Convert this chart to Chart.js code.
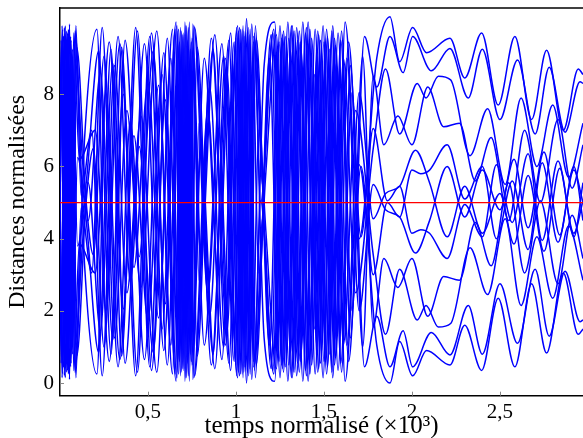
<!DOCTYPE html>
<html>
<head>
<meta charset="utf-8">
<script src="https://cdn.jsdelivr.net/npm/chart.js@4/dist/chart.umd.min.js"></script>
<style>
  body { margin: 0; background: #fff; }
  #box { width: 583px; height: 438px; }
</style>
</head>
<body>
<div id="box"><canvas id="chart"></canvas></div>
<script>
// temps normalisé (x10^3), one time list per pair of mirrored curves
const temps1 = [0, 0.012, 0.035, 0.06, 0.085, 0.14, 0.21, 0.26, 0.34, 0.42, 0.50, 0.58, 0.66, 0.69, 0.72, 0.75, 0.82, 0.90, 0.97, 1.02, 1.06, 1.10, 1.16, 1.22, 1.27, 1.32, 1.37, 1.42, 1.47, 1.52, 1.57, 1.62, 1.70,
  1.80, 1.875, 1.93, 2.004, 2.083, 2.216, 2.30, 2.396, 2.49, 2.585, 2.68, 2.765, 2.86, 2.945, 2.972];
const temps2 = [0, 0.006, 0.025, 0.048, 0.072, 0.095, 0.16, 0.23, 0.30, 0.37, 0.45, 0.53, 0.61, 0.675, 0.705, 0.735, 0.765, 0.85, 0.93, 1.01, 1.045, 1.08, 1.115, 1.19, 1.245, 1.295, 1.345, 1.395, 1.445, 1.495, 1.545, 1.595, 1.66, 1.73,
  1.80, 1.875, 1.95, 2.004, 2.11, 2.216, 2.32, 2.40, 2.50, 2.60, 2.70, 2.78, 2.87, 2.955, 2.972];
const temps3 = [0, 0.018, 0.042, 0.066, 0.09, 0.12, 0.18, 0.24, 0.31, 0.38, 0.46, 0.55, 0.63, 0.68, 0.71, 0.74, 0.78, 0.86, 0.95, 1.005, 1.04, 1.075, 1.11, 1.15, 1.21, 1.26, 1.31, 1.36, 1.41, 1.46, 1.51, 1.56, 1.61, 1.68,
  1.78, 1.85, 1.93, 2.03, 2.08, 2.15, 2.22, 2.33, 2.43, 2.53, 2.62, 2.71, 2.80, 2.89, 2.972];
const temps4 = [0, 0.009, 0.03, 0.054, 0.078, 0.11, 0.20, 0.28, 0.36, 0.44, 0.52, 0.60, 0.655, 0.685, 0.715, 0.745, 0.80, 0.88, 0.96, 1.015, 1.05, 1.09, 1.13, 1.20, 1.25, 1.30, 1.35, 1.40, 1.45, 1.50, 1.55, 1.60, 1.65, 1.72,
  1.78, 1.84, 1.92, 2.00, 2.09, 2.18, 2.27, 2.36, 2.45, 2.55, 2.64, 2.73, 2.83, 2.91, 2.972];
const temps5 = [0, 0.015, 0.038, 0.063, 0.088, 0.13, 0.19, 0.25, 0.33, 0.40, 0.48, 0.56, 0.64, 0.67, 0.70, 0.73, 0.76, 0.84, 0.92, 0.99, 1.025, 1.065, 1.10, 1.17, 1.23, 1.28, 1.33, 1.38, 1.43, 1.48, 1.53, 1.58, 1.64, 1.71,
  1.78, 1.86, 1.93, 2.00, 2.05, 2.10, 2.20, 2.30, 2.40, 2.48, 2.57, 2.66, 2.74, 2.83, 2.92, 2.972];
const temps6 = [0, 0.004, 0.022, 0.045, 0.07, 0.10, 0.15, 0.22, 0.29, 0.35, 0.43, 0.51, 0.59, 0.665, 0.695, 0.725, 0.755, 0.79, 0.87, 0.94, 1.0, 1.035, 1.07, 1.105, 1.14, 1.215, 1.265, 1.315, 1.365, 1.415, 1.465, 1.515, 1.565, 1.63, 1.70,
  1.78, 1.85, 1.93, 2.02, 2.10, 2.20, 2.30, 2.40, 2.50, 2.58, 2.66, 2.75, 2.84, 2.92, 2.972];

// distances normalisées, upper curves (haut) and lower curves (bas)
const haut1 = [5.0, 9.9, 1.0, 9.6, 0.3, 6.8, 9.8, 2.0, 9.4, 3.2, 8.3, 1.5, 10.0, 0.3, 9.9, 0.5, 9.0, 3.0, 9.7, 0.2, 10.1, 0.6, 8.8, 10.0, 0.3, 9.9, 0.8, 9.8, 0.4, 9.6, 1.2, 10.0, 4.0,
  9.0, 10.15, 8.9, 9.85, 9.15, 9.55, 8.45, 9.70, 7.7, 9.60, 7.3, 9.22, 7.0, 8.7, 8.55];
const bas1 = [5.05, 0.15, 9.05, 0.45, 9.75, 3.25, 0.25, 8.05, 0.65, 6.85, 1.75, 8.55, 0.05, 9.75, 0.15, 9.55, 1.05, 7.05, 0.35, 9.85, 0, 9.45, 1.25, 0.05, 9.75, 0.15, 9.25, 0.25, 9.65, 0.45, 8.85, 0.05, 6.05,
  1.05, 0, 1.15, 0.2, 0.9, 0.5, 1.6, 0.35, 2.35, 0.45, 2.75, 0.83, 3.05, 1.35, 1.5];
const haut2 = [6.0, 9.5, 0.2, 9.8, 0.8, 9.3, 4.5, 8.6, 1.2, 9.5, 3.5, 9.2, 0.5, 9.8, 0.4, 10.0, 0.2, 8.2, 1.0, 9.9, 0.3, 9.8, 0.5, 9.0, 0.6, 10.0, 0.2, 9.7, 1.5, 9.9, 0.3, 9.5, 2.0, 9.6,
  8.2, 9.6, 8.6, 9.6, 8.65, 9.27, 7.9, 9.25, 7.3, 8.95, 6.9, 8.75, 6.95, 8.35, 8.3];
const bas2 = [4.05, 0.55, 9.85, 0.25, 9.25, 0.75, 5.55, 1.45, 8.85, 0.55, 6.55, 0.85, 9.55, 0.25, 9.65, 0.05, 9.85, 1.85, 9.05, 0.15, 9.75, 0.25, 9.55, 1.05, 9.45, 0.05, 9.85, 0.35, 8.55, 0.15, 9.75, 0.55, 8.05, 0.45,
  1.85, 0.45, 1.45, 0.45, 1.4, 0.78, 2.15, 0.8, 2.75, 1.1, 3.15, 1.3, 3.1, 1.7, 1.75];
const haut3 = [4.0, 0.5, 9.7, 1.5, 9.9, 5.2, 7.0, 0.2, 8.8, 2.5, 7.4, 0.3, 9.0, 0.6, 10.0, 0.8, 9.3, 0.5, 8.6, 0.2, 9.9, 0.4, 9.9, 5.5, 9.7, 0.5, 9.2, 0.3, 10.0, 1.0, 9.4, 0.5, 9.0, 2.5,
  6.5, 8.7, 6.9, 8.3, 7.9, 8.5, 8.4, 6.3, 7.6, 5.5, 7.9, 6.0, 7.7, 5.7, 7.2];
const bas3 = [6.05, 9.55, 0.35, 8.55, 0.15, 4.85, 3.05, 9.85, 1.25, 7.55, 2.65, 9.75, 1.05, 9.45, 0.05, 9.25, 0.75, 9.55, 1.45, 9.85, 0.15, 9.65, 0.15, 4.55, 0.35, 9.55, 0.85, 9.75, 0.05, 9.05, 0.65, 9.55, 1.05, 7.55,
  3.55, 1.35, 3.15, 1.75, 2.15, 1.55, 1.65, 3.75, 2.45, 4.55, 2.15, 4.05, 2.35, 4.35, 2.85];
const haut4 = [5.5, 0.8, 9.9, 0.1, 9.7, 6.2, 7.0, 0.6, 8.0, 0.3, 9.7, 2.2, 9.8, 0.2, 9.9, 0.6, 6.5, 0.4, 9.5, 0.3, 9.6, 0.1, 7.0, 0.4, 9.9, 0.5, 9.5, 0.2, 9.8, 0.6, 9.9, 0.3, 8.8, 1.0,
  8.5, 6.6, 7.4, 6.6, 8.2, 7.1, 7.2, 5.6, 6.8, 4.5, 7.0, 5.0, 7.3, 5.4, 6.6];
const bas4 = [4.55, 9.25, 0.15, 9.95, 0.35, 3.85, 3.05, 9.45, 2.05, 9.75, 0.35, 7.85, 0.25, 9.85, 0.15, 9.45, 3.55, 9.65, 0.55, 9.75, 0.45, 9.95, 3.05, 9.65, 0.15, 9.55, 0.55, 9.85, 0.25, 9.45, 0.15, 9.75, 1.25, 9.05,
  1.55, 3.45, 2.65, 3.45, 1.85, 2.95, 2.85, 4.45, 3.25, 5.55, 3.05, 5.05, 2.75, 4.65, 3.45];
const haut5 = [5.0, 9.8, 0.3, 9.5, 1.2, 4.0, 6.5, 1.0, 9.6, 2.8, 9.4, 1.8, 9.8, 0.3, 9.7, 0.2, 9.9, 2.5, 9.4, 0.6, 9.8, 0.3, 9.6, 4.2, 0.4, 9.6, 0.3, 10.0, 0.5, 9.5, 0.8, 9.7, 0.6, 6.0,
  3.0, 5.0, 4.6, 5.9, 5.8, 5.9, 6.6, 5.1, 6.0, 4.0, 5.6, 3.7, 6.1, 3.9, 5.9, 5.0];
const bas5 = [5.05, 0.25, 9.75, 0.55, 8.85, 6.05, 3.55, 9.05, 0.45, 7.25, 0.65, 8.25, 0.25, 9.75, 0.35, 9.85, 0.15, 7.55, 0.65, 9.45, 0.25, 9.75, 0.45, 5.85, 9.65, 0.45, 9.75, 0.05, 9.55, 0.55, 9.25, 0.35, 9.45, 4.05,
  7.05, 5.05, 5.45, 4.15, 4.25, 4.15, 3.45, 4.95, 4.05, 6.05, 4.45, 6.35, 3.95, 6.15, 4.15, 5.05];
const haut6 = [4.5, 7.0, 9.6, 0.4, 9.0, 3.8, 5.6, 9.2, 0.8, 9.3, 0.2, 9.6, 0.9, 9.9, 0.4, 9.5, 0.1, 7.2, 0.8, 9.0, 0.5, 9.8, 0.2, 9.7, 5.0, 9.8, 0.4, 9.9, 0.6, 9.4, 0.3, 9.8, 0.7, 9.0, 2.0,
  5.5, 4.8, 4.6, 3.6, 4.5, 6.0, 4.6, 5.9, 4.8, 6.2, 4.3, 6.4, 4.1, 6.0, 4.5];
const bas6 = [5.55, 3.05, 0.45, 9.65, 1.05, 6.25, 4.45, 0.85, 9.25, 0.75, 9.85, 0.45, 9.15, 0.15, 9.65, 0.55, 9.95, 2.85, 9.25, 1.05, 9.55, 0.25, 9.85, 0.35, 5.05, 0.25, 9.65, 0.15, 9.45, 0.65, 9.75, 0.25, 9.35, 1.05, 8.05,
  4.55, 5.25, 5.45, 6.45, 5.55, 4.05, 5.45, 4.15, 5.25, 3.85, 5.75, 3.65, 5.95, 4.05, 5.55];

// red reference level
const niveauRouge = 5.0;

const xTicks = [0.5, 1, 1.5, 2, 2.5];
const yTicks = [0, 2, 4, 6, 8];
const xMax = 2.972;

const courbes = [
  [temps1, haut1], [temps1, bas1],
  [temps2, haut2], [temps2, bas2],
  [temps3, haut3], [temps3, bas3],
  [temps4, haut4], [temps4, bas4],
  [temps5, haut5], [temps5, bas5],
  [temps6, haut6], [temps6, bas6]
];

const serif = "'Liberation Serif', 'DejaVu Serif', serif";

const datasets = courbes.map(([t, d]) => ({
  data: t.map((v, i) => ({ x: v, y: d[i] })),
  borderColor: '#0000ff',
  borderWidth: 1.5,
  pointRadius: 0,
  cubicInterpolationMode: 'monotone',
  fill: false
}));

// red line on top
datasets.push({
  data: [{ x: 0, y: niveauRouge }, { x: xMax, y: niveauRouge }],
  borderColor: '#ff0000',
  borderWidth: 1.3,
  pointRadius: 0,
  order: -1
});

// top frame line and small inner ticks
const cadre = {
  id: 'cadre',
  afterDatasetsDraw(chart) {
    const { ctx, chartArea: a, scales } = chart;
    ctx.save();
    ctx.strokeStyle = '#000';
    ctx.lineWidth = 1.5;
    ctx.beginPath();
    ctx.moveTo(a.left, a.top);
    ctx.lineTo(a.right, a.top);
    ctx.stroke();

    ctx.strokeStyle = '#888';
    ctx.lineWidth = 1;
    ctx.beginPath();
    scales.x.ticks.forEach(t => {
      const p = Math.round(scales.x.getPixelForValue(t.value)) + 0.5;
      ctx.moveTo(p, a.bottom);
      ctx.lineTo(p, a.bottom - 4);
    });
    scales.y.ticks.forEach(t => {
      const p = Math.round(scales.y.getPixelForValue(t.value)) + 0.5;
      ctx.moveTo(a.left, p);
      ctx.lineTo(a.left + 4, p);
    });
    ctx.stroke();
    ctx.restore();
  }
};

new Chart(document.getElementById('chart'), {
  type: 'line',
  data: { datasets },
  options: {
    responsive: true,
    maintainAspectRatio: false,
    animation: false,
    layout: { padding: { top: 8, right: 0, left: 0, bottom: 0 } },
    plugins: {
      legend: { display: false },
      tooltip: { enabled: false }
    },
    scales: {
      x: {
        type: 'linear',
        min: 0,
        max: xMax,
        afterBuildTicks: s => { s.ticks = xTicks.map(v => ({ value: v })); },
        afterFit: s => {
          s.height = 42.3;
          s.paddingLeft = 0;
          s.paddingRight = 0;
        },
        grid: { drawOnChartArea: false, drawTicks: false },
        border: { display: true, color: '#000', width: 1.5 },
        ticks: {
          padding: 4,
          color: '#000',
          font: { family: serif, size: 21 },
          callback: v => String(v).replace('.', ',')
        },
        title: {
          display: true,
          text: 'temps normalisé (×10³)',
          color: '#000',
          font: { family: serif, size: 25, lineHeight: 0.9 },
          padding: { top: 0, bottom: 0 }
        }
      },
      y: {
        min: -0.35,
        max: 10.39,
        afterBuildTicks: s => { s.ticks = yTicks.map(v => ({ value: v })); },
        afterFit: s => {
          s.width = 60;
          s.paddingTop = 0;
          s.paddingBottom = 0;
        },
        grid: { drawOnChartArea: false, drawTicks: false },
        border: { display: true, color: '#000', width: 1.5 },
        ticks: {
          padding: 6,
          color: '#000',
          font: { family: serif, size: 21 }
        },
        title: {
          display: true,
          text: 'Distances normalisées',
          color: '#000',
          font: { family: serif, size: 24, lineHeight: 1.2 },
          padding: { top: 3, bottom: 0 }
        }
      }
    }
  },
  plugins: [cadre]
});
</script>
</body>
</html>
